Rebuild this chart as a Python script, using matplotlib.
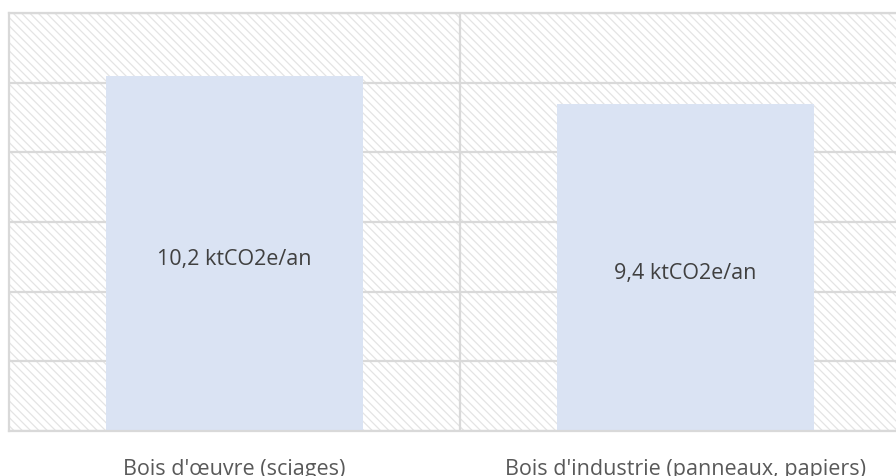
import matplotlib.pyplot as plt
from matplotlib.patches import Rectangle

plt.rcParams['font.family'] = ['Open Sans', 'DejaVu Sans']
plt.rcParams['hatch.color'] = '#e4e4e4'
plt.rcParams['hatch.linewidth'] = 0.9

categories = ["Bois d'œuvre (sciages)", "Bois d'industrie (panneaux, papiers)"]
values = [10.2, 9.4]
value_labels = ['10,2 ktCO2e/an', '9,4 ktCO2e/an']

fig = plt.figure(figsize=(8.96, 4.77), dpi=100)
ax = fig.add_axes([9 / 896, 45 / 477, 902 / 896, 418 / 477])

# hatched background
ax.add_patch(Rectangle((0, 0), 1, 1, transform=ax.transAxes, facecolor='white',
                       edgecolor='#e4e4e4', hatch='\\\\\\\\', linewidth=0, zorder=0))

x = list(range(len(categories)))
ax.bar(x, values, width=0.57, color='#dae3f3', zorder=2)

for i, v in enumerate(values):
    ax.annotate(value_labels[i], xy=(i, v / 2), xytext=(0, -4), textcoords='offset points',
                ha='center', va='center', fontsize=15.5, color='#404040', zorder=3)

ax.set_xlim(-0.5, 1.5)
ax.set_ylim(0, 12)
ax.set_yticks(range(0, 13, 2))
ax.yaxis.grid(True, color='#d9d9d9', linewidth=1.6, zorder=1)
ax.axvline(0.5, color='#d9d9d9', linewidth=1.6, zorder=1)
ax.set_axisbelow(True)
ax.tick_params(axis='y', left=False, labelleft=False)
ax.set_xticks(x)
ax.set_xticklabels(categories, fontsize=15.5, color='#595959')
ax.tick_params(axis='x', length=0, pad=19.5)
for side in ['left', 'top', 'bottom']:
    ax.spines[side].set_color('#d9d9d9')
    ax.spines[side].set_linewidth(1.6)
ax.spines['right'].set_visible(False)

fig.savefig('out.png', dpi=100)
